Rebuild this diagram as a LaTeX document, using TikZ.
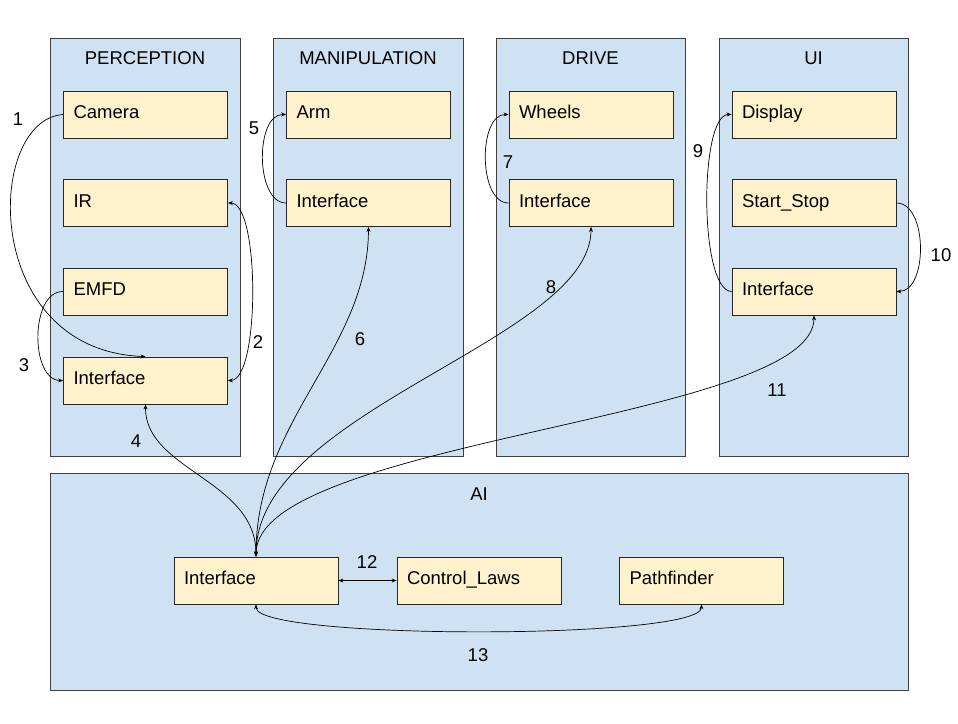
\documentclass[tikz,border=0pt]{standalone}
\usepackage{fontspec}
\setmainfont{Liberation Sans}
\usetikzlibrary{arrows.meta}
\definecolor{panel}{HTML}{CFE2F3}
\definecolor{part}{HTML}{FFF2CC}

\begin{document}
\begin{tikzpicture}%
[x=1pt, y=-1pt, font=\fontsize{18.5}{22}\selectfont,%
group/.style={draw=black!75, fill=panel, line width=0.8pt, inner sep=0pt},%
unit/.style={draw=black!85, fill=part, line width=0.8pt, minimum height=47pt,%
  text width=144pt, inner xsep=10pt, align=left, text height=13pt, text depth=4.7pt},%
num/.style={inner sep=1pt},%
link/.style={line width=0.7pt, -{Stealth[length=5pt,width=4pt]}},%
both/.style={line width=0.7pt, {Stealth[length=5pt,width=4pt]}-{Stealth[length=5pt,width=4pt]}}]

\useasboundingbox (0,0) rectangle (958,723);

\node[group, minimum width=190pt, minimum height=418pt] (gper) at (145,247) {};
\node[group, minimum width=190pt, minimum height=418pt] (gman) at (368,247) {};
\node[group, minimum width=189pt, minimum height=418pt] (gdrv) at (590.5,247) {};
\node[group, minimum width=189pt, minimum height=418pt] (gui) at (813.5,247) {};
\node[group, minimum width=858pt, minimum height=217pt] (gai) at (479,581.5) {};

\node (tper) at (145,58) {PERCEPTION};
\node (tman) at (368,58) {MANIPULATION};
\node (tdrv) at (590.5,58) {DRIVE};
\node (tui) at (813.5,58) {UI};
\node (tai) at (479,494) {AI};

\node[unit] (cam) at (145.5,114.5) {Camera};
\node[unit] (ir) at (145.5,203) {IR};
\node[unit] (emfd) at (145.5,291.5) {EMFD};
\node[unit] (pif) at (145.5,380.5) {Interface};

\node[unit] (arm) at (368.5,114.5) {Arm};
\node[unit] (mif) at (368.5,203) {Interface};

\node[unit] (whl) at (591,114.5) {Wheels};
\node[unit] (dif) at (591,203) {Interface};

\node[unit] (disp) at (814,114.5) {Display};
\node[unit] (ss) at (814,203) {Start\_Stop};
\node[unit] (uif) at (814,291.5) {Interface};

\node[unit] (aif) at (256,580.5) {Interface};
\node[unit] (cl) at (479,580.5) {Control\_Laws};
\node[unit] (pf) at (701.5,580.5) {Pathfinder};

\draw[link] (cam.west) .. controls (-15,120) and (-20,350) .. (pif.north);
\draw[both] (ir.east) .. controls (260,203) and (260,380) .. (pif.east);
\draw[link] (emfd.west) .. controls (30,291) and (30,380) .. (pif.west);
\draw[both] (pif.south) .. controls (145,470) and (256,480) .. (aif.north);
\draw[link] (mif.west) .. controls (255,203) and (255,114) .. (arm.west);
\draw[both] (mif.south) .. controls (368,350) and (256,420) .. (aif.north);
\draw[link] (dif.west) .. controls (478,203) and (478,114) .. (whl.west);
\draw[both] (dif.south) .. controls (591,340) and (256,410) .. (aif.north);
\draw[link] (uif.west) .. controls (699,291) and (699,114) .. (disp.west);
\draw[link] (ss.east) .. controls (928,203) and (928,291) .. (uif.east);
\draw[both] (uif.south) .. controls (814,420) and (256,440) .. (aif.north);
\draw[both] (aif.east) -- (cl.west);
\draw[both] (aif.south) .. controls (256,640) and (701,640) .. (pf.south);

\node[num] (n1) at (18,119) {1};
\node[num] (n2) at (258,342) {2};
\node[num] (n3) at (24,365) {3};
\node[num] (n4) at (136,441) {4};
\node[num] (n5) at (254,128) {5};
\node[num] (n6) at (360,339) {6};
\node[num] (n7) at (508,162) {7};
\node[num] (n8) at (551,287) {8};
\node[num] (n9) at (698,151) {9};
\node[num] (n10) at (941,255) {10};
\node[num] (n11) at (777,390) {11};
\node[num] (n12) at (367,562) {12};
\node[num] (n13) at (478,655) {13};
\end{tikzpicture}
\end{document}
